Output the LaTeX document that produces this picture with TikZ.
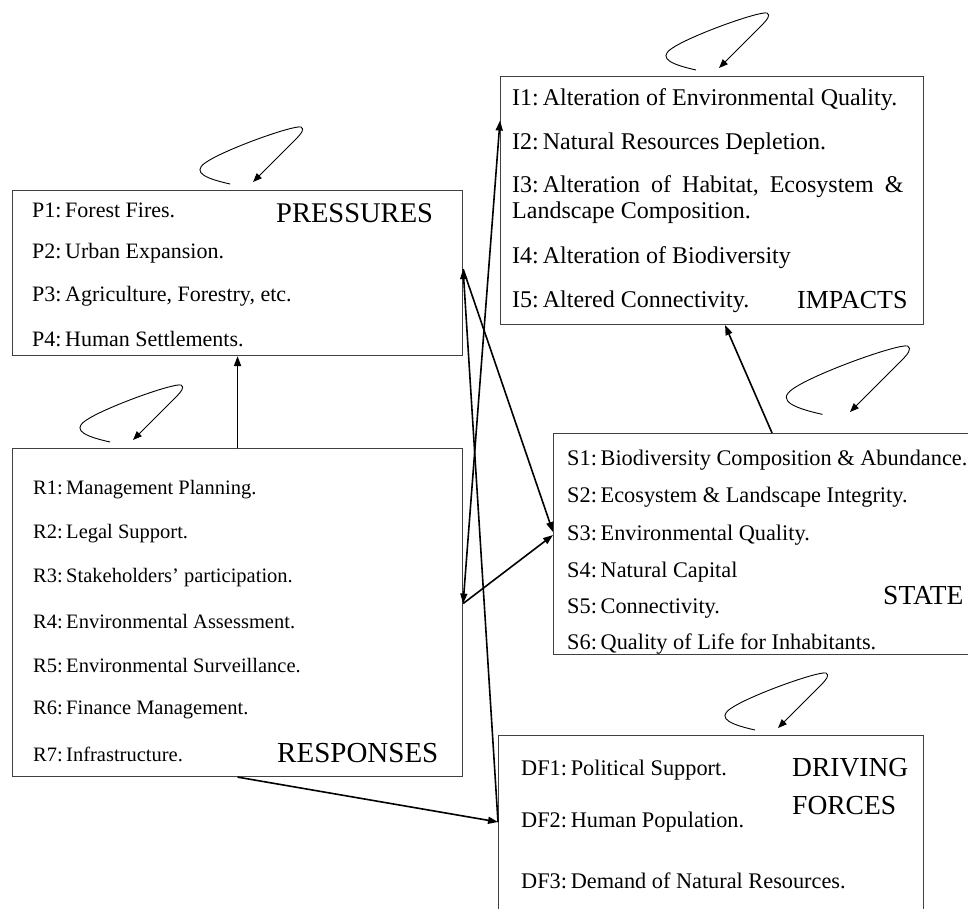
\documentclass[tikz,border=0pt]{standalone}
\usepackage{fontspec}
\setmainfont{Liberation Serif}
\usetikzlibrary{arrows.meta}
\newcommand{\fsz}[1]{\fontsize{#1}{#1}\selectfont}
\begin{document}
\begin{tikzpicture}[x=1pt,y=-1pt,
  box/.style={draw=black!75, line width=1.1pt, inner sep=0pt, anchor=north west},
  txt/.style={anchor=west, inner sep=0pt, font=\fsz{22}},
  ttl/.style={anchor=west, inner sep=0pt, font=\fsz{27.5}},
  conn/.style={line width=1.6pt, -{Triangle[length=10pt,width=7pt]}},
  dconn/.style={line width=1.6pt, {Triangle[length=10pt,width=7pt]}-{Triangle[length=10pt,width=7pt]}},
  loopline/.style={line width=0.9pt, -{Triangle[length=9pt,width=7pt]}},
  selfloop/.pic={\draw[loopline] (-23,2) .. controls (-45,-3) and (-62,-9) .. (-48,-19)
      .. controls (-30,-32) and (40,-57) .. (48,-55)
      .. controls (52,-53) and (48,-48) .. (43,-43) -- (0,0);}
]
\useasboundingbox (0,0) rectangle (968,909);

% boxes
\node[box, minimum width=450pt, minimum height=165pt] (P) at (12,190) {};
\node[box, minimum width=423pt, minimum height=248pt] (I) at (500,76) {};
\node[box, minimum width=450pt, minimum height=328pt] (R) at (12,448) {};
\node[box, minimum width=415pt, minimum height=221pt] (S) at (553,433) {};
\node[box, minimum width=425pt, minimum height=200pt] (DF) at (498,735) {};

% PRESSURES texts
\node[txt] (p1) at (32,210) {P1:\,Forest Fires.};
\node[txt] (p2) at (32,253) {P2:\,Urban Expansion.};
\node[txt] (p3) at (32,296) {P3:\,Agriculture, Forestry, etc.};
\node[txt] (p4) at (32,339) {P4:\,Human Settlements.};
\node[ttl, font=\fsz{28.5}] (pt) at (276,213) {PRESSURES};

% IMPACTS texts
\node[txt, font=\fsz{24}] (i1) at (512,100) {I1:\,Alteration of Environmental Quality.};
\node[txt, font=\fsz{24}] (i2) at (512,144) {I2:\,Natural Resources Depletion.};
\node[txt, font=\fsz{24}] (i3) at (512,187) {I3:\,Alteration\hspace{11pt}of\hspace{11pt}Habitat,\hspace{11pt}Ecosystem\hspace{11pt}\&};
\node[txt, font=\fsz{24}] (i3b) at (512,213) {Landscape Composition.};
\node[txt, font=\fsz{24}] (i4) at (512,258) {I4:\,Alteration of Biodiversity};
\node[txt, font=\fsz{24}] (i5) at (512,302) {I5:\,Altered Connectivity.};
\node[ttl, font=\fsz{26}] (it) at (797,300) {IMPACTS};

% RESPONSES texts
\node[txt, font=\fsz{20.5}] (r1) at (33,490) {R1:\,Management Planning.};
\node[txt, font=\fsz{20.5}] (r2) at (33,534) {R2:\,Legal Support.};
\node[txt, font=\fsz{20.5}] (r3) at (33,578) {R3:\,Stakeholders' participation.};
\node[txt, font=\fsz{20.5}] (r4) at (33,622) {R4:\,Environmental Assessment.};
\node[txt, font=\fsz{20.5}] (r5) at (33,666) {R5:\,Environmental Surveillance.};
\node[txt, font=\fsz{20.5}] (r6) at (33,710) {R6:\,Finance Management.};
\node[txt, font=\fsz{20.5}] (r7) at (33,754) {R7:\,Infrastructure.};
\node[ttl, font=\fsz{29}] (rt) at (277,753) {RESPONSES};

% STATE texts
\node[txt, font=\fsz{22.3}] (s1) at (567,460) {S1:\,Biodiversity Composition \& Abundance.};
\node[txt, font=\fsz{22.3}] (s2) at (567,497) {S2:\,Ecosystem \& Landscape Integrity.};
\node[txt, font=\fsz{22.3}] (s3) at (567,535) {S3:\,Environmental Quality.};
\node[txt, font=\fsz{22.3}] (s4) at (567,572) {S4:\,Natural Capital};
\node[txt, font=\fsz{22.3}] (s5) at (567,609) {S5:\,Connectivity.};
\node[txt, font=\fsz{22.3}] (s6) at (567,644) {S6:\,Quality of Life for Inhabitants.};
\node[ttl] (st) at (883,596) {STATE};

% DRIVING FORCES texts
\node[txt, font=\fsz{22.3}] (d1) at (521,770) {DF1:\,Political Support.};
\node[txt, font=\fsz{22.3}] (d2) at (521,822) {DF2:\,Human Population.};
\node[txt, font=\fsz{22.3}] (d3) at (521,881) {DF3:\,Demand of Natural Resources.};
\node[ttl] (dt1) at (792,768) {DRIVING};
\node[ttl] (dt2) at (792,806) {FORCES};

% self loops
\pic (lp) at (253,182) {selfloop};
\pic (li) at (719,68) {selfloop};
\pic (lr) at (133,440) {selfloop};
\pic[scale=1.2] (ls) at (850,412) {selfloop};
\pic (ld) at (778,728) {selfloop};

% connectors
\draw[conn] (R.north) -- (P.south);
\draw[conn] ([xshift=11pt]S.north) -- ([xshift=13pt]I.south);
\draw[conn] (R.south) -- ([yshift=-87pt]DF.north west);
\draw[conn] ([yshift=-87pt]DF.north west) -- ([yshift=4pt]P.east);
\draw[conn] ([yshift=4pt]P.east) -- ([yshift=12pt]S.west);
\draw[conn] ([yshift=9pt]R.east) -- ([yshift=9pt]S.west);
\draw[dconn] ([yshift=9pt]R.east) -- ([yshift=80pt]I.west);
\end{tikzpicture}
\end{document}
